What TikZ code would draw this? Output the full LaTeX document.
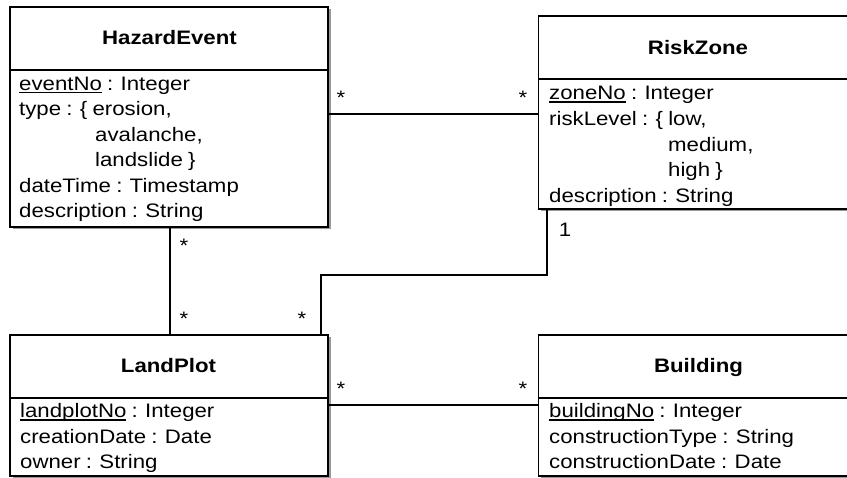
\documentclass[tikz,border=0pt]{standalone}
\usepackage{fontspec}
\setmainfont{Liberation Sans}[FakeStretch=1.14, WordSpace=0.85]
\usetikzlibrary{shadows}
\newcommand\ulinetext[1]{\setbox0\hbox{#1}\rlap{\rule[-2.6pt]{\wd0}{1.1pt}}\box0\relax}
\tikzset{
  classbox/.style={draw, fill=white, line width=1.4pt, rectangle, inner sep=0, outer sep=0,
    anchor=north west,
    drop shadow={shadow xshift=2.5pt, shadow yshift=-2.5pt, fill=black, opacity=0.4}},
  divider/.style={line width=1.4pt},
  title/.style={font=\fontsize{19.5}{23}\selectfont\bfseries, inner sep=0, anchor=base},
  attr/.style={font=\fontsize{19.5}{23}\selectfont, inner sep=0, anchor=base west},
  mult/.style={font=\fontsize{19.5}{23}\selectfont, inner sep=0, anchor=base},
  conn/.style={line width=1.3pt}
}
\begin{document}
\begin{tikzpicture}[x=1pt, y=-1pt]
\useasboundingbox (0,0) rectangle (847,478);
\clip (0,0) rectangle (847,478);

\coordinate (bend1) at (547,275);
\coordinate (bend2) at (321,275);

% HazardEvent
\node[classbox, minimum width=318, minimum height=220] (he) at (10,7) {};
\draw[divider] (he.west |- 0,70) -- (he.east |- 0,70);
\node[title] (het) at (169.5,45) {HazardEvent};
\node[attr] (he1) at (19,90.5) {\ulinetext{eventNo} : Integer};
\node[attr] (he2) at (19,116) {type : \{ erosion,};
\node[attr] (he3) at (95,141.5) {avalanche,};
\node[attr] (he4) at (95,167) {landslide \}};
\node[attr] (he5) at (19,192.5) {dateTime : Timestamp};
\node[attr] (he6) at (19,218) {description : String};

% RiskZone
\node[classbox, minimum width=330, minimum height=193] (rz) at (538.5,16) {};
\draw[divider] (rz.west |- 0,79) -- (rz.east |- 0,79);
\node[title] (rzt) at (698,55) {RiskZone};
\node[attr] (rz1) at (549,100) {\ulinetext{zoneNo} : Integer};
\node[attr] (rz2) at (549,126) {riskLevel : \{ low,};
\node[attr] (rz3) at (668,152) {medium,};
\node[attr] (rz4) at (668,177) {high \}};
\node[attr] (rz5) at (549,202.5) {description : String};

% LandPlot
\node[classbox, minimum width=318, minimum height=141] (lp) at (10,335) {};
\draw[divider] (lp.west |- 0,398) -- (lp.east |- 0,398);
\node[title] (lpt) at (168.5,373) {LandPlot};
\node[attr] (lp1) at (20,418) {\ulinetext{landplotNo} : Integer};
\node[attr] (lp2) at (20,444) {creationDate : Date};
\node[attr] (lp3) at (20,469) {owner : String};

% Building
\node[classbox, minimum width=330, minimum height=141] (bd) at (538.5,335) {};
\draw[divider] (bd.west |- 0,398) -- (bd.east |- 0,398);
\node[title] (bdt) at (698.5,373) {Building};
\node[attr] (bd1) at (549,418) {\ulinetext{buildingNo} : Integer};
\node[attr] (bd2) at (549,444) {constructionType : String};
\node[attr] (bd3) at (549,469) {constructionDate : Date};

% associations
\draw[conn] (he.east |- 0,114) -- (rz.west |- 0,114);
\draw[conn] (he.south -| 170,0) -- (lp.north -| 170,0);
\draw[conn] (rz.south -| bend1) -- (bend1) -- (bend2) -- (lp.north -| bend2);
\draw[conn] (lp.east |- 0,405) -- (bd.west |- 0,405);

% multiplicities
\node[mult] (m1) at (341,104.5) {*};
\node[mult] (m2) at (523,104.5) {*};
\node[mult] (m3) at (184,252.5) {*};
\node[mult] (m4) at (184,326) {*};
\node[mult] (m5) at (302,326) {*};
\node[mult] (m6) at (565,237) {1};
\node[mult] (m7) at (341,395.5) {*};
\node[mult] (m8) at (523,395.5) {*};
\end{tikzpicture}
\end{document}
